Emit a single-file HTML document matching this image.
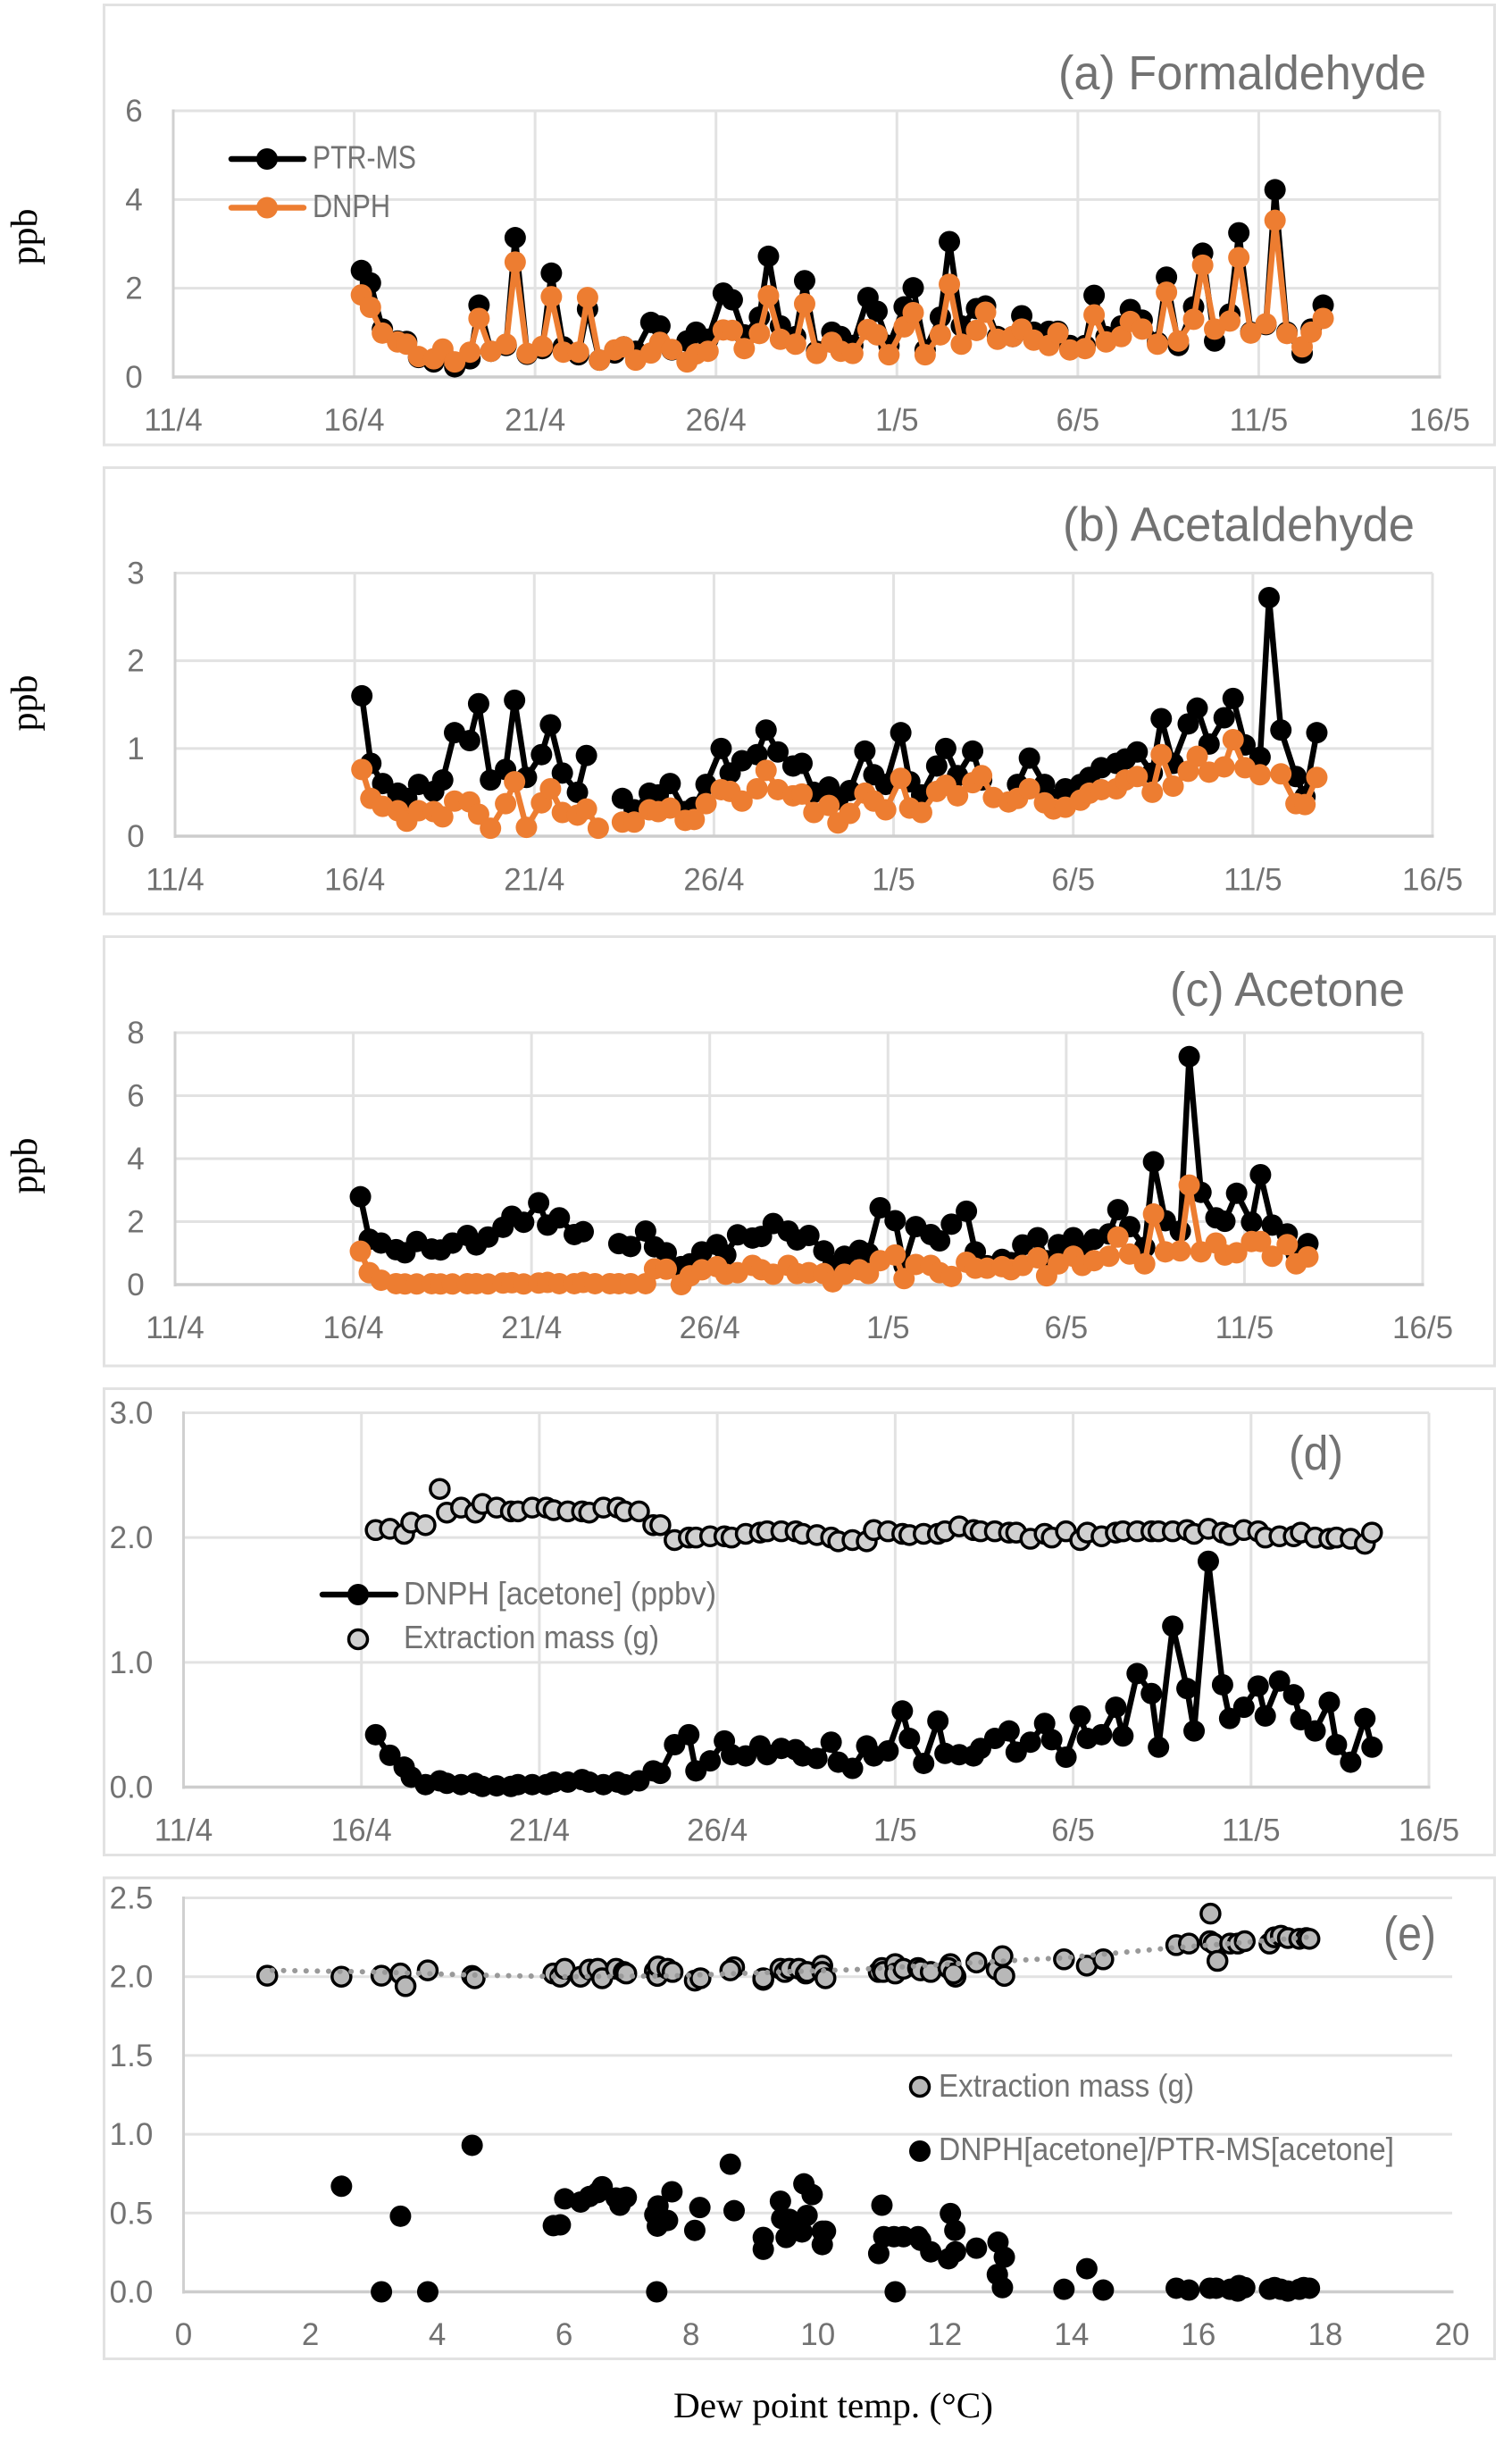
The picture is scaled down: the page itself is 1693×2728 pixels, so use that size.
<!DOCTYPE html>
<html lang="en">
<head>
<meta charset="utf-8">
<title>Carbonyl time series</title>
<style>
html,body{margin:0;padding:0;background:#fff;}
svg{display:block;}
text{font-family:"Liberation Sans",sans-serif;fill:#727272;}
.serif{font-family:"Liberation Serif",serif;fill:#000;}
</style>
</head>
<body>
<svg id="figure" xmlns="http://www.w3.org/2000/svg" width="1693" height="2728" viewBox="0 0 1693 2728">
  <rect x="116.5" y="5.5" width="1557" height="492.5" fill="#fff" stroke="#e2e2e2" stroke-width="3"/>
  <rect x="116.5" y="523.5" width="1557" height="499.5" fill="#fff" stroke="#e2e2e2" stroke-width="3"/>
  <rect x="116.5" y="1048.5" width="1557" height="480.5" fill="#fff" stroke="#e2e2e2" stroke-width="3"/>
  <rect x="116.5" y="1554.5" width="1557" height="522" fill="#fff" stroke="#e2e2e2" stroke-width="3"/>
  <rect x="116.5" y="2102" width="1557" height="538.5" fill="#fff" stroke="#e2e2e2" stroke-width="3"/>

  <g id="marks"></g>

  <text x="1185" y="100" font-size="54" textLength="412" lengthAdjust="spacingAndGlyphs">(a) Formaldehyde</text>
  <text x="1190" y="605.5" font-size="54" textLength="394" lengthAdjust="spacingAndGlyphs">(b) Acetaldehyde</text>
  <text x="1310" y="1126" font-size="54" textLength="263" lengthAdjust="spacingAndGlyphs">(c) Acetone</text>
  <text x="1443" y="1645" font-size="54" textLength="61" lengthAdjust="spacingAndGlyphs">(d)</text>
  <text x="1549" y="2183" font-size="54" textLength="59" lengthAdjust="spacingAndGlyphs">(e)</text>

  <text class="serif" font-size="42" text-anchor="middle" transform="translate(41,265) rotate(-90)">ppb</text>
  <text class="serif" font-size="42" text-anchor="middle" transform="translate(41,787) rotate(-90)">ppb</text>
  <text class="serif" font-size="42" text-anchor="middle" transform="translate(41,1305) rotate(-90)">ppb</text>
  <text class="serif" x="754" y="2706" font-size="40" textLength="358" lengthAdjust="spacingAndGlyphs">Dew point temp. (°C)</text>

  <g>
    <line x1="259" y1="178" x2="340" y2="178" stroke="#000" stroke-width="6.5" stroke-linecap="round"/>
    <circle cx="299" cy="178" r="12" fill="#000"/>
    <text x="350" y="188.5" font-size="36" textLength="116" lengthAdjust="spacingAndGlyphs">PTR-MS</text>
    <line x1="259" y1="232.5" x2="340" y2="232.5" stroke="#ed7d31" stroke-width="6.5" stroke-linecap="round"/>
    <circle cx="299" cy="232.5" r="12" fill="#ed7d31"/>
    <text x="350" y="243" font-size="36" textLength="87" lengthAdjust="spacingAndGlyphs">DNPH</text>
  </g>
  <g>
    <line x1="361" y1="1785" x2="443" y2="1785" stroke="#000" stroke-width="6.5" stroke-linecap="round"/>
    <circle cx="401" cy="1785" r="12" fill="#000"/>
    <text x="452" y="1796" font-size="36" textLength="350" lengthAdjust="spacingAndGlyphs">DNPH [acetone] (ppbv)</text>
    <circle cx="401" cy="1835" r="10.5" fill="#d0d0d0" stroke="#000" stroke-width="3.5"/>
    <text x="452" y="1845" font-size="36" textLength="286" lengthAdjust="spacingAndGlyphs">Extraction mass (g)</text>
  </g>
  <g>
    <circle cx="1030" cy="2336" r="10.5" fill="#b8b8b8" stroke="#000" stroke-width="3.5"/>
    <text x="1051" y="2347" font-size="36" textLength="286" lengthAdjust="spacingAndGlyphs">Extraction mass (g)</text>
    <circle cx="1030" cy="2408" r="12" fill="#000"/>
    <text x="1051" y="2418" font-size="36" textLength="510" lengthAdjust="spacingAndGlyphs">DNPH[acetone]/PTR-MS[acetone]</text>
  </g>
</svg>

<script>
// ---- shared categories / ticks ----
const dateTickDays = [0,5,10,15,20,25,30,35];
const dateTickLabels = ['11/4','16/4','21/4','26/4','1/5','6/5','11/5','16/5'];

// sampling times, days after 11/4
const sampleDays = [
5.2,5.45,5.78, 6.2,6.45,6.78, 7.2,7.45,7.78, 8.2,8.45,8.78, 9.2,9.45,9.78,
10.2,10.45,10.78, 11.2,11.45,11.78, 12.2,12.45,12.78, 13.2,13.45,13.78, 14.2,14.45,14.78,
15.2,15.45,15.78, 16.2,16.45,16.78, 17.2,17.45,17.78, 18.2,18.45,18.78, 19.2,19.45,19.78,
20.2,20.45,20.78, 21.2,21.45,21.78, 22.2,22.45,22.78, 23.2,23.45,23.78, 24.2,24.45,24.78,
25.2,25.45,25.78, 26.2,26.45,26.78, 27.2,27.45,27.78, 28.2,28.45,28.78, 29.2,29.45,29.78,
30.2,30.45,30.78, 31.2,31.45,31.78];

// ---- panel (a) formaldehyde ----
const formaldehydeTicks = [0,2,4,6];
const formaldehydePtr = [
2.40,2.12,1.08, .81,.80,.44, .34,.55,.23, .41,1.62,.58, .71,3.14,.51,
.64,2.34,.68, .50,1.53,.38, .54,.68,.58, 1.23,1.15,.61, .81,1.01,.85,
1.89,1.74,.95, 1.35,2.72,1.15, .91,2.17,.58, 1.01,.91,.71, 1.79,1.48,.71,
1.58,2.01,.61, 1.35,3.05,1.15, 1.54,1.60,.91, .91,1.38,1.01, 1.03,1.03,.71,
.71,1.84,.91, 1.15,1.52,1.28, .78,2.25,.71, 1.58,2.79,.81, 1.42,3.25,1.01,
1.18,4.22,1.01, .54,1.08,1.62];
const formaldehydeDnph = [
1.85,1.57,.99, .79,.74,.46, .41,.63,.34, .56,1.32,.58, .74,2.59,.53,
.69,1.81,.56, .56,1.79,.38, .61,.68,.38, .54,.78,.62, .34,.52,.58,
1.06,1.05,.64, .98,1.83,.85, .74,1.65,.53, .78,.58,.53, 1.07,.95,.50,
1.13,1.45,.50, .95,2.09,.74, 1.05,1.46,.85, .91,1.08,.83, .71,.99,.61,
.64,1.40,.79, .91,1.25,1.08, .74,1.91,.81, 1.30,2.52,1.08, 1.26,2.69,.99,
1.20,3.53,.98, .68,1.01,1.32];

// ---- panel (b) acetaldehyde ----
const acetaldehydeTicks = [0,1,2,3];
const acetaldehydePtr = [
1.60,.83,.60, .49,.43,.59, .51,.64,1.18, 1.09,1.51,.64, .76,1.55,.67,
.93,1.27,.72, .50,.92,null, null,.43,.30, .49,.47,.60, .28,.33,.59,
1.00,.72,.86, .93,1.21,.96, .80,.83,.50, .56,.42,.52, .97,.70,.59,
1.18,.62,.47, .80,1.00,.69, .97,.64,null, null,.59,.89, .59,.42,.54,
.59,.67,.78, .83,.88,.96, .72,1.34,.83, 1.28,1.46,1.05, 1.35,1.57,1.04,
.90,2.72,1.21, .68,.45,1.18];
const acetaldehydeDnph = [
.76,.43,.34, .29,.17,.29, .28,.22,.40, .39,.25,.09, .37,.62,.10,
.38,.54,.27, .24,.31,.09, null,.16,.16, .30,.28,.32, .18,.19,.37,
.53,.51,.40, .54,.75,.53, .46,.48,.27, .35,.15,.26, .49,.40,.30,
.66,.32,.27, .51,.58,.46, .61,.69,.44, .39,.43,.54, .38,.31,.33,
.41,.49,.53, .54,.64,.68, .50,.93,.57, .74,.91,.73, .79,1.10,.78,
.70,null,.71, .37,.36,.67];

// ---- panel (c) acetone ----
const acetoneTicks = [0,2,4,6,8];
const acetonePtr = [
2.79,1.44,1.32, 1.11,1.01,1.37, 1.13,1.10,1.32, 1.56,1.26,1.51, 1.82,2.17,1.98,
2.60,1.89,2.12, 1.59,1.68,null, null,1.30,1.21, 1.70,1.20,1.01, .57,.66,1.04,
1.27,.94,1.58, 1.48,1.53,1.94, 1.70,1.42,1.56, 1.07,.61,.90, 1.09,.99,2.44,
2.03,.61,1.84, 1.59,1.39,1.92, 2.33,1.04,.60, .80,.70,1.26, 1.49,.76,1.27,
1.49,1.09,1.44, 1.61,2.38,1.84, 1.18,3.90,2.03, 1.70,7.24,2.93, 2.12,2.01,2.90,
1.98,3.49,1.89, 1.61,.99,1.30];
const acetoneDnph = [
1.06,.38,.14, .03,.02,.02, .03,.02,.02, .03,.03,.02, .05,.06,.02,
.05,.07,.03, .03,.07,.03, .03,.03,.03, .03,.50,.49, .00,.28,.47,
.57,.33,.38, .61,.47,.33, .61,.35,.38, .35,.09,.33, .47,.35,.76,
.94,.19,.64, .61,.38,.26, .71,.52,.52, .57,.47,.61, .85,.28,.66,
.90,.61,.76, .90,1.51,.97, .66,2.24,1.04, 1.07,3.16,1.04, 1.32,.94,1.01,
1.37,1.37,.90, 1.27,.66,.88];

// ---- panel (d) DNPH acetone and extraction mass ----
const panelDTicks = [0,1,2,3];
const panelDTickLabels = ['0.0','1.0','2.0','3.0'];
const extractionDays = [
5.4,5.8, 6.2,6.4,6.8, 7.2,7.4,7.8, 8.2,8.4,8.8, 9.2,9.4,9.8, 10.2,10.4,10.8,
11.2,11.4,11.8, 12.2,12.4,12.8, 13.2,13.4,13.8, 14.2,14.4,14.8, 15.2,15.4,15.8,
16.2,16.4,16.8, 17.2,17.4,17.8, 18.2,18.4,18.8, 19.2,19.4,19.8, 20.2,20.4,20.8,
21.2,21.4,21.8, 22.2,22.4,22.8, 23.2,23.4,23.8, 24.2,24.4,24.8, 25.2,25.4,25.8,
26.2,26.4,26.8, 27.2,27.4,27.8, 28.2,28.4,28.8, 29.2,29.4,29.8, 30.2,30.4,30.8,
31.2,31.4,31.8, 32.2,32.4,32.8, 33.2,33.4];
const extractionMass = [
2.06,2.07, 2.03,2.12,2.10, 2.39,2.20,2.24, 2.20,2.27,2.24, 2.21,2.21,2.24, 2.24,2.22,2.21,
2.21,2.20,2.24, 2.24,2.21,2.21, 2.10,2.10,1.98, 2.00,2.00,2.01, 2.01,2.00,2.03,
2.04,2.05,2.05, 2.05,2.03,2.02, 2.00,1.97,1.98, 1.97,2.06,2.05, 2.03,2.02,2.03,
2.03,2.05,2.09, 2.06,2.05,2.05, 2.04,2.04,1.99, 2.03,2.00,2.05, 1.98,2.04,2.01,
2.04,2.05,2.05, 2.05,2.05,2.05, 2.06,2.03,2.07, 2.04,2.02,2.06, 2.05,2.00,2.01,
2.01,2.04,2.00, 1.99,2.00,1.99, 1.95,2.04];
const dnphAcetone = [
.42,.255, .16,.08,.02, .05,.03,.02, .03,.005,.01, .005,.02,.02, .02,.04,.04,
.06,.04,.02, .04,.02,.05, .13,.11,.34, .42,.13,.21, .37,.26,.25,
.33,.26,.31, .30,.25,.23, .36,.20,.15, .33,.25,.29, .61,.39,.19,
.53,.27,.26, .25,.31,.39, .45,.28,.36, .51,.38,.24, .57,.39,.42,
.64,.41,.91, .75,.32,1.29, .79,.45,1.81, .82,.55,.64, .81,.57,.85,
.74,.54,.45, .68,.34,.20, .55,.32];

// ---- panel (e) versus dew point ----
const panelETicks = [0,.5,1,1.5,2,2.5];
const panelETickLabels = ['0.0','0.5','1.0','1.5','2.0','2.5'];
const dewTicks = [0,2,4,6,8,10,12,14,16,18,20];
const massDew = [1.32,2.49,3.12,3.42,3.50,3.85,4.55,4.59,5.83,5.94,6.01,6.26,6.40,6.53,6.60,6.82,6.94,6.98,7.43,7.47,7.48,7.63,7.71,8.06,8.15,8.68,8.62,9.14,9.14,9.41,9.48,9.55,9.70,9.81,9.83,10.07,10.07,10.12,10.96,11.01,11.03,11.22,11.22,11.35,11.58,11.62,11.78,12.09,12.06,12.17,12.14,12.5,12.82,12.91,12.94,13.88,14.24,14.5,15.65,15.85,16.19,16.18,16.24,16.3,16.5,16.62,16.73,17.12,17.2,17.3,17.41,17.59,17.7,17.75];
const massValue = [2.006,2.0,2.006,2.02,1.94,2.04,2.005,1.99,2.02,2.0,2.05,2.0,2.045,2.05,1.99,2.05,2.03,2.02,2.035,2.005,2.065,2.05,2.03,1.975,1.99,2.06,2.04,1.98,1.99,2.05,2.03,2.05,2.05,2.02,2.03,2.07,2.03,1.99,2.03,2.055,2.03,2.08,2.02,2.05,2.055,2.04,2.03,2.08,2.055,2.0,2.02,2.09,2.045,2.13,2.005,2.11,2.07,2.11,2.2,2.21,2.40,2.225,2.21,2.10,2.21,2.21,2.225,2.21,2.25,2.26,2.245,2.24,2.245,2.24];
const ratioDew = [2.49,3.12,3.42,3.85,4.55,5.83,5.94,6.01,6.26,6.40,6.53,6.60,6.82,6.88,6.94,6.98,7.43,7.48,7.47,7.46,7.63,7.70,8.06,8.14,8.62,8.68,9.14,9.14,9.41,9.43,9.50,9.55,9.70,9.78,9.91,9.83,9.75,10.07,10.12,10.07,10.96,11.01,11.04,11.22,11.2,11.35,11.58,11.62,11.78,12.09,12.16,12.06,12.17,12.5,12.84,12.94,12.83,12.91,13.88,14.24,14.5,15.65,15.85,16.18,16.28,16.5,16.62,16.64,16.73,17.12,17.2,17.3,17.41,17.59,17.66,17.75];
const ratioValue = [.67,0,.48,0,.93,.42,.425,.59,.57,.605,.63,.667,.595,.55,.595,.60,.49,.545,.417,0,.453,.635,.39,.535,.81,.515,.345,.27,.575,.465,.345,.46,.39,.685,.617,.485,.38,.385,.385,.30,.243,.55,.35,0,.35,.35,.35,.327,.254,.497,.39,.21,.254,.277,.315,.22,.11,.027,.016,.147,.011,.023,.011,.023,.023,.016,.005,.04,.027,.016,.027,.016,.005,.016,.027,.023];
const trendDew = [1.4,3.0,4.6,6.0,7.7,9.4,10.6,12.5,13.9,15.5,16.5,17.7];
const trendMass = [2.04,2.03,2.01,2.0,2.005,2.03,2.045,2.09,2.12,2.18,2.21,2.25];

// ---- drawing helpers ----
const NS = 'http://www.w3.org/2000/svg';
const root = document.getElementById('marks');
function make(tag, parent, attrs) {
  const el = document.createElementNS(NS, tag);
  for (const k in attrs) el.setAttribute(k, attrs[k]);
  parent.appendChild(el);
  return el;
}
function linearScale(d0, d1, r0, r1) {
  return v => r0 + (v - d0) * (r1 - r0) / (d1 - d0);
}
function drawGrid(g, name, xs, ys, box, xTicks, xLabels, xBaseline, yTicks, yLabels, yLabelX, vertical) {
  if (vertical) {
    xTicks.forEach(t => {
      const line = make('line', g, {x1: xs(t), x2: xs(t), y1: box.top, y2: box.bottom, stroke: '#e2e2e2', 'stroke-width': 3});
      
      
    });
  }
  yTicks.forEach(t => {
    if (t === yTicks[0]) return;
    const line = make('line', g, {x1: box.left, x2: box.right, y1: ys(t), y2: ys(t), stroke: '#e2e2e2', 'stroke-width': 3});
    
    
  });
  const leftAxis = make('line', g, {x1: box.left, x2: box.left, y1: box.top - 1.5, y2: box.bottom + 2, stroke: '#d0d0d0', 'stroke-width': 3});
  
  
  const bottomAxis = make('line', g, {x1: box.left, x2: box.right + 1.5, y1: box.bottom, y2: box.bottom, stroke: '#cdcdcd', 'stroke-width': 3.5});
  
  
  xTicks.forEach((t, i) => {
    const label = make('text', g, {x: xs(t), y: xBaseline, 'text-anchor': 'middle', 'font-size': 35});
    
    
    label.textContent = xLabels[i];
  });
  yTicks.forEach((t, i) => {
    const label = make('text', g, {x: yLabelX, y: ys(t) + 12, 'text-anchor': 'middle', 'font-size': 35});
    
    
    label.textContent = yLabels[i];
  });
}
function drawLine(g, name, color, xVals, yVals, xs, ys) {
  let d = '';
  let pen = false;
  yVals.forEach((v, i) => {
    if (v === null) { pen = false; return; }
    d += (pen ? 'L' : 'M') + xs(xVals[i]).toFixed(2) + ' ' + ys(v).toFixed(2);
    pen = true;
  });
  const path = make('path', g, {d: d, fill: 'none', stroke: color, 'stroke-width': 6.5, 'stroke-linejoin': 'round'});
  
  
}
function drawPoints(g, name, fill, stroke, xVals, yVals, xs, ys) {
  yVals.forEach((v, i) => {
    if (v === null) return;
    const point = make('circle', g, {
      cx: xs(xVals[i]).toFixed(2), cy: ys(v).toFixed(2),
      r: stroke ? 10.5 : 12, fill: fill,
      stroke: stroke || 'none', 'stroke-width': stroke ? 3.5 : 0
    });
    
    
  });
}
function dateScale(box) {
  return linearScale(0, 35, box.left, box.right);
}

// ---- panel (a) ----
{
  const box = {left: 194, right: 1612, top: 124, bottom: 422};
  const xs = dateScale(box), ys = linearScale(0, 6, box.bottom, box.top);
  const g = make('g', root, {});
  
  
  drawGrid(g, 'panel-a', xs, ys, box, dateTickDays, dateTickLabels, 482, formaldehydeTicks, formaldehydeTicks.map(String), 150, true);
  drawLine(g, 'ptr-ms-formaldehyde', '#000', sampleDays, formaldehydePtr, xs, ys);
  drawPoints(g, 'ptr-ms-formaldehyde', '#000', null, sampleDays, formaldehydePtr, xs, ys);
  drawLine(g, 'dnph-formaldehyde', '#ed7d31', sampleDays, formaldehydeDnph, xs, ys);
  drawPoints(g, 'dnph-formaldehyde', '#ed7d31', null, sampleDays, formaldehydeDnph, xs, ys);
}
// ---- panel (b) ----
{
  const box = {left: 196, right: 1604, top: 641.5, bottom: 936};
  const xs = dateScale(box), ys = linearScale(0, 3, box.bottom, box.top);
  const g = make('g', root, {});
  
  
  drawGrid(g, 'panel-b', xs, ys, box, dateTickDays, dateTickLabels, 996.5, acetaldehydeTicks, acetaldehydeTicks.map(String), 152, true);
  drawLine(g, 'ptr-ms-acetaldehyde', '#000', sampleDays, acetaldehydePtr, xs, ys);
  drawPoints(g, 'ptr-ms-acetaldehyde', '#000', null, sampleDays, acetaldehydePtr, xs, ys);
  drawLine(g, 'dnph-acetaldehyde', '#ed7d31', sampleDays, acetaldehydeDnph, xs, ys);
  drawPoints(g, 'dnph-acetaldehyde', '#ed7d31', null, sampleDays, acetaldehydeDnph, xs, ys);
}
// ---- panel (c) ----
{
  const box = {left: 196, right: 1593, top: 1156, bottom: 1438};
  const xs = dateScale(box), ys = linearScale(0, 8, box.bottom, box.top);
  const g = make('g', root, {});
  
  
  drawGrid(g, 'panel-c', xs, ys, box, dateTickDays, dateTickLabels, 1498, acetoneTicks, acetoneTicks.map(String), 152, true);
  drawLine(g, 'ptr-ms-acetone', '#000', sampleDays, acetonePtr, xs, ys);
  drawPoints(g, 'ptr-ms-acetone', '#000', null, sampleDays, acetonePtr, xs, ys);
  drawLine(g, 'dnph-acetone', '#ed7d31', sampleDays, acetoneDnph, xs, ys);
  drawPoints(g, 'dnph-acetone', '#ed7d31', null, sampleDays, acetoneDnph, xs, ys);
}
// ---- panel (d) ----
{
  const box = {left: 205.5, right: 1600, top: 1581.5, bottom: 2000.5};
  const xs = dateScale(box), ys = linearScale(0, 3, box.bottom, box.top);
  const g = make('g', root, {});
  
  
  drawGrid(g, 'panel-d', xs, ys, box, dateTickDays, dateTickLabels, 2060.5, panelDTicks, panelDTickLabels, 147, true);
  drawPoints(g, 'extraction-mass', '#d0d0d0', '#000', extractionDays, extractionMass, xs, ys);
  drawLine(g, 'dnph-acetone-ppbv', '#000', extractionDays, dnphAcetone, xs, ys);
  drawPoints(g, 'dnph-acetone-ppbv', '#000', null, extractionDays, dnphAcetone, xs, ys);
}
// ---- panel (e) ----
{
  const box = {left: 205.5, right: 1626, top: 2124.5, bottom: 2565.5};
  const xs = linearScale(0, 20, box.left, box.right), ys = linearScale(0, 2.5, box.bottom, box.top);
  const g = make('g', root, {});
  
  
  drawGrid(g, 'panel-e', xs, ys, box, dewTicks, dewTicks.map(String), 2625, panelETicks, panelETickLabels, 147, false);
  drawPoints(g, 'extraction-mass-dew', '#b8b8b8', '#000', massDew, massValue, xs, ys);
  drawPoints(g, 'acetone-ratio', '#000', null, ratioDew, ratioValue, xs, ys);
  let d = '';
  trendDew.forEach((v, i) => {
    d += (i ? 'L' : 'M') + xs(v).toFixed(2) + ' ' + ys(trendMass[i]).toFixed(2);
  });
  const trend = make('path', g, {d: d, fill: 'none', stroke: '#999', 'stroke-width': 6, 'stroke-linecap': 'round', 'stroke-dasharray': '0.1 12.5'});
  
  
}
</script>
</body>
</html>
